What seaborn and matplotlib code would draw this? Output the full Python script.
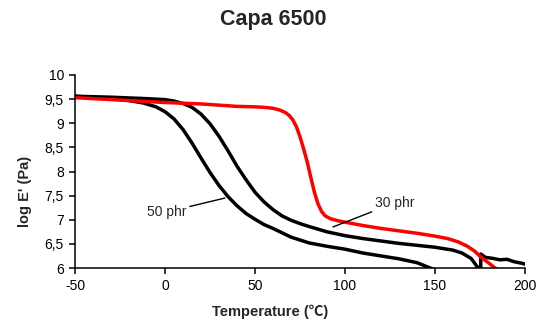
import pandas as pd
import matplotlib
matplotlib.use('Agg')
import matplotlib.pyplot as plt
from matplotlib.ticker import FuncFormatter
import seaborn as sns

# 데이터
temp_50phr = [-50, -30, -20, -12, -5, 0, 5, 10, 15, 20, 25, 30, 35, 40, 45, 50, 55, 60,
              70, 80, 90, 100, 110, 120, 130, 140, 146, 150, 153]
loge_50phr = [9.56, 9.51, 9.47, 9.42, 9.34, 9.24, 9.09, 8.87, 8.59, 8.28, 7.98, 7.71, 7.48,
              7.29, 7.13, 7.01, 6.90, 6.82, 6.64, 6.52, 6.45, 6.39, 6.31, 6.25, 6.19, 6.11,
              6.02, 5.96, 5.90]

temp_30phr = [-50, -30, -10, 0, 5, 10, 15, 20, 25, 30, 35, 40, 45, 50, 55, 60, 65, 70, 75,
              80, 90, 100, 110, 120, 130, 140, 150, 160, 165, 170, 174, 175.4, 175.4, 178,
              182, 186, 190, 194, 198, 200]
loge_30phr = [9.56, 9.54, 9.51, 9.49, 9.46, 9.41, 9.33, 9.19, 8.99, 8.73, 8.43, 8.11, 7.83,
              7.57, 7.37, 7.21, 7.08, 6.99, 6.92, 6.86, 6.75, 6.67, 6.61, 6.56, 6.51, 6.47,
              6.43, 6.37, 6.31, 6.20, 6.00, 5.90, 6.29, 6.22, 6.20, 6.17, 6.18, 6.13, 6.10,
              6.08]

temp_red = [-50, -30, -10, 0, 20, 40, 50, 55, 60, 64, 67, 69, 71, 73, 75, 77, 79, 81, 83,
            85, 87, 89, 92, 96, 100, 110, 120, 130, 140, 150, 157, 163, 168, 172, 176, 180,
            184, 187]
loge_red = [9.53, 9.49, 9.45, 9.43, 9.40, 9.35, 9.34, 9.33, 9.31, 9.27, 9.22, 9.16, 9.07,
            8.93, 8.72, 8.47, 8.20, 7.88, 7.57, 7.33, 7.17, 7.08, 7.02, 6.98, 6.95, 6.88,
            6.82, 6.77, 6.72, 6.66, 6.61, 6.54, 6.45, 6.35, 6.21, 6.10, 5.98, 5.88]

x_ticks = [-50, 0, 50, 100, 150, 200]
y_ticks = [6, 6.5, 7, 7.5, 8, 8.5, 9, 9.5, 10]

df_50 = pd.DataFrame({'T': temp_50phr, 'E': loge_50phr})
df_30 = pd.DataFrame({'T': temp_30phr, 'E': loge_30phr})
df_red = pd.DataFrame({'T': temp_red, 'E': loge_red})

sns.set_style('white')
plt.rcParams['font.family'] = ['Liberation Sans', 'DejaVu Sans']
plt.rcParams['axes.unicode_minus'] = False

fig = plt.figure(figsize=(5.55, 3.32), dpi=100)
ax = fig.add_axes([75 / 555, 64 / 332, 450 / 555, 193 / 332])

lw = 2.5
sns.lineplot(data=df_50, x='T', y='E', sort=False, estimator=None, color='black', lw=lw, ax=ax)
sns.lineplot(data=df_30, x='T', y='E', sort=False, estimator=None, color='black', lw=lw, ax=ax)
sns.lineplot(data=df_red, x='T', y='E', sort=False, estimator=None, color='#ff0000', lw=lw, ax=ax)

ax.set_xlim(-50, 200)
ax.set_ylim(6, 10)
ax.set_xticks(x_ticks)
ax.set_yticks(y_ticks)
ax.yaxis.set_major_formatter(FuncFormatter(lambda v, p: f'{v:g}'.replace('.', ',')))
ax.tick_params(axis='both', direction='out', length=4, width=1.1, colors='black',
               labelsize=10, pad=4, left=True, bottom=True)
ax.set_xlabel('')
ax.set_ylabel('')
sns.despine(ax=ax)
for s in ['left', 'bottom']:
    ax.spines[s].set_color('black')
    ax.spines[s].set_linewidth(1.1)

# 주석
ax.annotate('50 phr', xy=(33.3, 7.45), xytext=(-10, 7.16), fontsize=10,
            va='center', ha='left',
            arrowprops=dict(arrowstyle='-', color='black', lw=1, shrinkA=0, shrinkB=0))
ax.annotate('30 phr', xy=(93.3, 6.85), xytext=(116.7, 7.35), fontsize=10,
            va='center', ha='left',
            arrowprops=dict(arrowstyle='-', color='black', lw=1, shrinkA=0, shrinkB=0))

fig.text(273 / 555, 1 - 19 / 332, 'Capa 6500', ha='center', va='center',
         fontsize=15.5, fontweight='bold')
fig.text(270 / 555, 1 - 312 / 332, 'Temperature (\u2103)', ha='center', va='center',
         fontsize=10.5, fontweight='bold',
         family=['Liberation Sans', 'Noto Sans CJK SC', 'DejaVu Sans'])
fig.text(25 / 555, 1 - 191 / 332, "log E' (Pa)", ha='center', va='center',
         fontsize=10.5, fontweight='bold', rotation=90)

fig.savefig('out.png', dpi=100)
